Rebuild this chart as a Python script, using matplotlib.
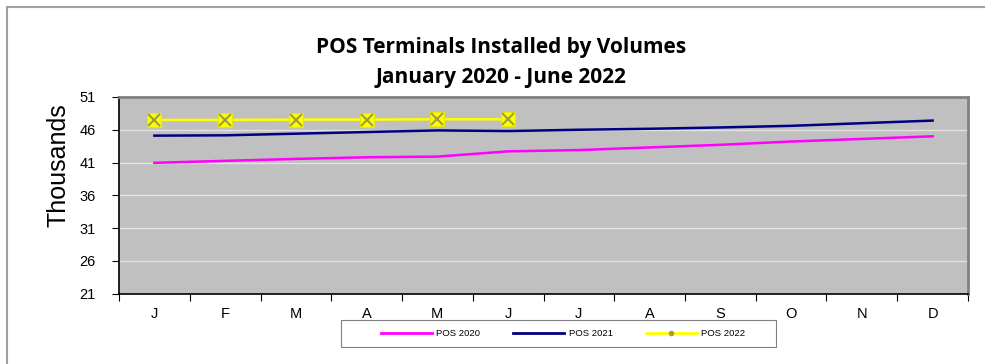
import matplotlib
matplotlib.use("Agg")
import matplotlib.pyplot as plt
from matplotlib.lines import Line2D
from matplotlib.patches import Rectangle
import numpy as np

# Monthly installed POS terminals (thousands)
months = ["J", "F", "M", "A", "M", "J", "J", "A", "S", "O", "N", "D"]
pos_2020 = [40.95, 41.25, 41.55, 41.8, 41.9, 42.7, 42.9, 43.3, 43.7, 44.2, 44.6, 45.0]
pos_2021 = [45.1, 45.15, 45.4, 45.65, 45.9, 45.8, 46.0, 46.15, 46.35, 46.6, 47.0, 47.4]
pos_2022 = [47.5, 47.5, 47.55, 47.55, 47.6, 47.6]
series_names = ["POS 2020", "POS 2021", "POS 2022"]
title_lines = ["POS Terminals Installed by Volumes", "January 2020 - June 2022"]
y_ticks = [21, 26, 31, 36, 41, 46, 51]

plt.rcParams["font.family"] = ["Liberation Sans", "DejaVu Sans"]

W, H = 985, 364
fig = plt.figure(figsize=(W / 100, H / 100), dpi=100)
ax = fig.add_axes([119 / W, 1 - 293.5 / H, (968 - 119) / W, (293.5 - 97) / H])
ax.set_facecolor("#C0C0C0")

x = np.arange(len(months))
ax.plot(x, pos_2020, color="#FF00FF", lw=1.8, zorder=3)
ax.plot(x, pos_2021, color="#000080", lw=1.8, zorder=3)
x22 = np.arange(len(pos_2022))
ax.plot(x22, pos_2022, color="#FFFF00", lw=1.8, zorder=3)
ax.plot(x22, pos_2022, ls="none", marker="s", ms=10, mfc="#FFFF00",
        mec="#E8E800", mew=0.8, zorder=4)
ax.plot(x22, pos_2022, ls="none", marker="x", ms=8, mec="#9CA040",
        mew=1.5, zorder=5)

ax.set_xlim(-0.5, len(months) - 0.5)
ax.set_ylim(y_ticks[0], y_ticks[-1])
ax.set_yticks(y_ticks)
ax.set_yticklabels([str(v) for v in y_ticks], fontsize=10.5)
ax.yaxis.grid(True, color="#E2E2E2", lw=1.0)
ax.set_axisbelow(True)

ax.set_xticks(x)
ax.set_xticklabels(months, fontsize=10.5)
ax.tick_params(axis="x", which="major", length=0, pad=10)
ax.set_xticks(np.arange(-0.5, len(months)), minor=True)
ax.tick_params(axis="x", which="minor", length=5, width=0.8, direction="out")
ax.tick_params(axis="y", length=5, width=0.8, direction="out", pad=12)

for side in ("left", "bottom"):
    ax.spines[side].set_color("black")
    ax.spines[side].set_linewidth(1.2)
for side in ("top", "right"):
    ax.spines[side].set_color("#808080")
    ax.spines[side].set_linewidth(2.0)

fig.text(58 / W, 1 - 165 / H, "Thousands", rotation=90, ha="center", va="center",
         fontsize=18)

title_font = ["Open Sans", "DejaVu Sans"]
fig.text(501 / W, 1 - 47 / H, title_lines[0], ha="center", va="center",
         fontsize=15, fontweight="bold", family=title_font)
fig.text(501 / W, 1 - 77 / H, title_lines[1], ha="center", va="center",
         fontsize=15, fontweight="bold", family=title_font)

handles = [
    Line2D([], [], color="#FF00FF", lw=2),
    Line2D([], [], color="#000080", lw=2),
    Line2D([], [], color="#FFFF00", lw=2, marker="o", ms=3, mfc="#9CA040", mec="#9CA040"),
]
leg = fig.legend(handles, series_names, ncol=3, fontsize=6.8,
                 bbox_to_anchor=(563 / W, 1 - 333.5 / H), loc="center",
                 handlelength=5.4, handletextpad=0.45, columnspacing=3.5,
                 frameon=False)

# Legend frame
fig.add_artist(Rectangle((341 / W, 1 - 347 / H), 435 / W, 27 / H, fill=False,
                         edgecolor="#808080", lw=0.8, transform=fig.transFigure))

# Outer chart frame
fig.add_artist(Rectangle((7 / W, -0.2), 1.2, 1 - 7 / H + 0.2, fill=False,
                         edgecolor="#A0A0A0", lw=1.5, transform=fig.transFigure))

fig.savefig("out.png", dpi=100)
